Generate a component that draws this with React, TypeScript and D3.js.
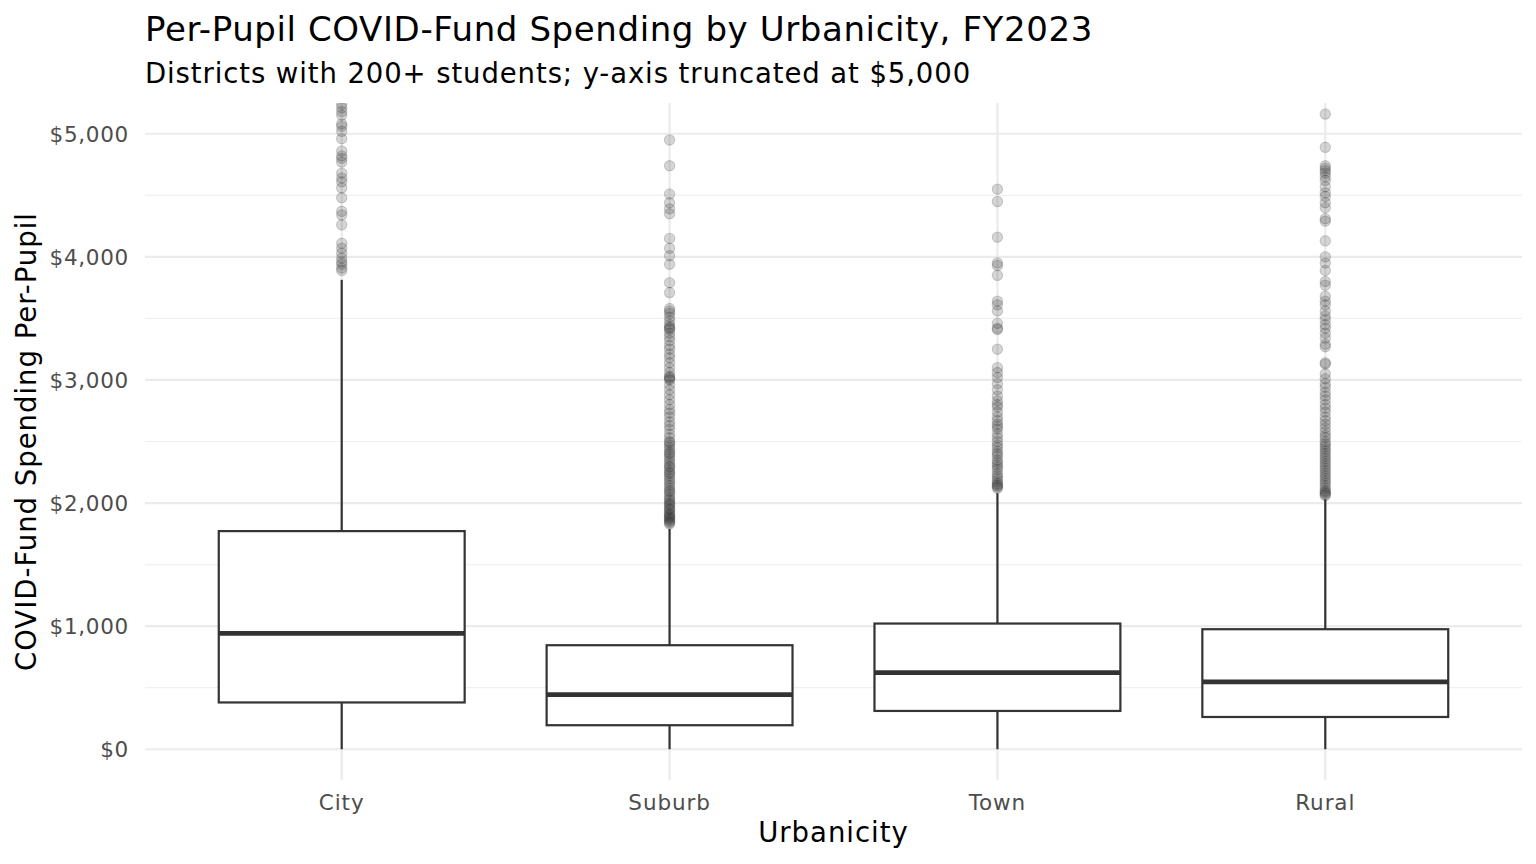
import React from "react";
import * as d3 from "d3";

// box stats (per-pupil dollars)
const categories = ["City", "Suburb", "Town", "Rural"];
const q1 = [380, 195, 311, 262];
const median = [941, 444, 623, 547];
const q3 = [1772, 845, 1021, 975];
const whiskerLow = [0, 0, 0, 0];
const whiskerHigh = [3813, 1790, 2080, 2030];

const cityOutliers = [5240, 5210, 5180, 5150, 5080, 5060, 5020, 4960, 4860, 4820, 4800, 4770, 4680, 4640, 4610, 4560, 4480, 4370, 4340, 4260, 4110, 4070, 4030, 3990, 3960, 3940, 3910, 3890];
const suburbOutliers = [4950, 4740, 4510, 4440, 4390, 4350, 4150, 4070, 4010, 3940, 3790, 3710, 3580, 3560, 3540, 3510, 3480, 3450, 3430, 3420, 3410, 3380, 3350, 3320, 3280, 3250, 3210, 3180, 3140, 3100, 3060, 3030, 3020, 3010, 3000, 2960, 2920, 2880, 2840, 2800, 2760, 2730, 2700, 2660, 2630, 2600, 2560, 2530, 2500, 2490, 2470, 2450, 2430, 2410, 2400, 2380, 2360, 2340, 2320, 2300, 2290, 2270, 2250, 2240, 2220, 2200, 2180, 2160, 2140, 2120, 2100, 2090, 2070, 2050, 2030, 2020, 2000, 1990, 1980, 1960, 1950, 1940, 1920, 1910, 1900, 1890, 1880, 1870, 1860, 1850, 1840, 1830];
const townOutliers = [4550, 4450, 4160, 3950, 3930, 3850, 3640, 3610, 3560, 3460, 3420, 3410, 3250, 3100, 3060, 3020, 2970, 2920, 2870, 2830, 2800, 2780, 2740, 2700, 2670, 2640, 2620, 2600, 2560, 2530, 2500, 2470, 2450, 2420, 2400, 2380, 2350, 2330, 2310, 2290, 2270, 2240, 2220, 2200, 2180, 2160, 2150, 2140, 2130, 2120];
const ruralOutliers = [5160, 4890, 4740, 4720, 4700, 4680, 4650, 4620, 4570, 4520, 4490, 4440, 4400, 4310, 4290, 4130, 4000, 3950, 3890, 3800, 3770, 3680, 3640, 3610, 3560, 3520, 3490, 3450, 3420, 3380, 3340, 3290, 3270, 3140, 3130, 3050, 3010, 2970, 2940, 2900, 2870, 2840, 2800, 2770, 2740, 2700, 2670, 2640, 2610, 2580, 2550, 2530, 2500, 2480, 2460, 2440, 2420, 2400, 2380, 2360, 2340, 2320, 2300, 2280, 2260, 2240, 2220, 2200, 2180, 2160, 2140, 2120, 2100, 2090, 2080, 2070, 2060];
const outliers = [cityOutliers, suburbOutliers, townOutliers, ruralOutliers];

const yTicks = [0, 1000, 2000, 3000, 4000, 5000];
const yMinor = [500, 1500, 2500, 3500, 4500];

const W = 1536;
const H = 864;
const panel = { left: 145, right: 1522, top: 103, bottom: 780 };
const font = "'DejaVu Sans', sans-serif";

export default function App() {
  // discrete axis with ggplot's 0.6 expansion
  const x = d3.scaleLinear().domain([0.4, categories.length + 0.6]).range([panel.left, panel.right]);
  const y = d3.scaleLinear().domain([-250, 5250]).range([panel.bottom, panel.top]);
  const boxHalf = (x(1.75) - x(1)) / 2;
  const fmt = (v: number) => "$" + d3.format(",")(v);

  return (
    <svg width={W} height={H} style={{ position: "absolute", left: 0, top: 0, background: "#fff" }} fontFamily={font}>
      <defs>
        <clipPath id="panelClip">
          <rect x={panel.left} y={panel.top} width={panel.right - panel.left} height={panel.bottom - panel.top} />
        </clipPath>
      </defs>

      {/* grid */}
      {yMinor.map((v) => (
        <line key={"m" + v} x1={panel.left} x2={panel.right} y1={y(v)} y2={y(v)} stroke="#f0f0f0" strokeWidth={1.2} />
      ))}
      {yTicks.map((v) => (
        <line key={"g" + v} x1={panel.left} x2={panel.right} y1={y(v)} y2={y(v)} stroke="#ebebeb" strokeWidth={2.2} />
      ))}
      {categories.map((c, i) => (
        <line key={"v" + c} x1={x(i + 1)} x2={x(i + 1)} y1={panel.top} y2={panel.bottom} stroke="#ebebeb" strokeWidth={2.2} />
      ))}

      {/* boxes */}
      <g clipPath="url(#panelClip)">
        {categories.map((c, i) => {
          const cx = x(i + 1);
          return (
            <g key={c}>
              <line x1={cx} x2={cx} y1={y(q3[i])} y2={y(whiskerHigh[i])} stroke="#333" strokeWidth={2.2} />
              <line x1={cx} x2={cx} y1={y(q1[i])} y2={y(whiskerLow[i])} stroke="#333" strokeWidth={2.2} />
              <rect x={cx - boxHalf} y={y(q3[i])} width={boxHalf * 2} height={y(q1[i]) - y(q3[i])} fill="#fff" stroke="#333" strokeWidth={2.2} />
              <line x1={cx - boxHalf} x2={cx + boxHalf} y1={y(median[i])} y2={y(median[i])} stroke="#333" strokeWidth={4.8} />
              {outliers[i].map((v, k) => (
                <circle key={k} cx={cx} cy={y(v)} r={5.2} fill="#333" fillOpacity={0.2} stroke="#333" strokeOpacity={0.2} strokeWidth={1.1} />
              ))}
            </g>
          );
        })}
      </g>

      {/* y axis labels */}
      {yTicks.map((v) => (
        <text key={"t" + v} x={129} y={y(v)} dy="0.36em" textAnchor="end" fontSize={21.5} letterSpacing={0.7} fill="#4d4d4d">
          {fmt(v)}
        </text>
      ))}
      {/* x axis labels */}
      {categories.map((c, i) => (
        <text key={"x" + c} x={x(i + 1)} y={810} textAnchor="middle" fontSize={21.5} letterSpacing={0.9} fill="#4d4d4d">
          {c}
        </text>
      ))}

      {/* titles */}
      <text x={(panel.left + panel.right) / 2} y={842} textAnchor="middle" fontSize={27.5} letterSpacing={1} fill="#000">
        Urbanicity
      </text>
      <text transform={`translate(36,${(panel.top + panel.bottom) / 2}) rotate(-90)`} textAnchor="middle" fontSize={27.5} letterSpacing={1} fill="#000">
        COVID-Fund Spending Per-Pupil
      </text>
      <text x={145} y={41} fontSize={34} letterSpacing={0.6} fill="#000">
        Per-Pupil COVID-Fund Spending by Urbanicity, FY2023
      </text>
      <text x={145} y={83} fontSize={27.5} letterSpacing={0.9} fill="#000">
        Districts with 200+ students; y-axis truncated at $5,000
      </text>
    </svg>
  );
}
